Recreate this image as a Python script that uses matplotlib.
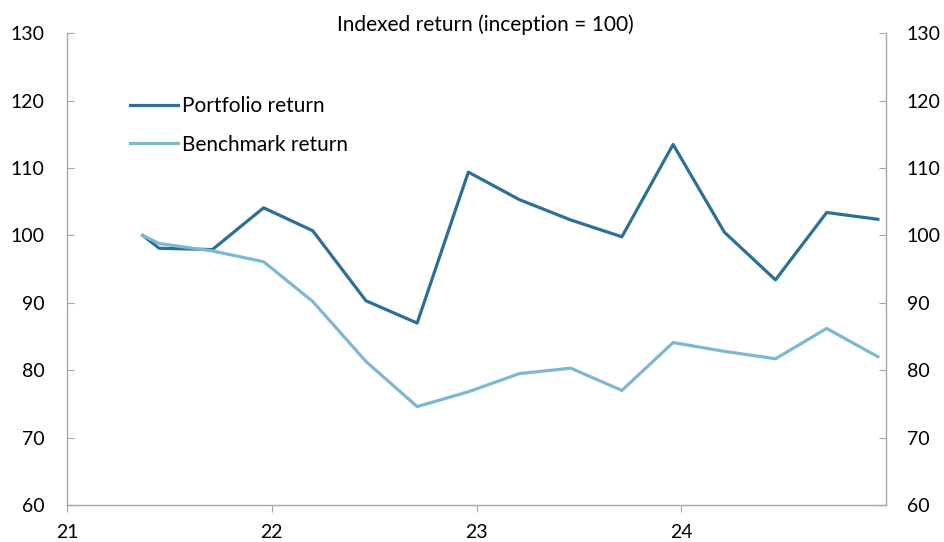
import matplotlib
matplotlib.use("Agg")
import matplotlib.pyplot as plt

# decimal years (21 = 2021)
years = [21.37, 21.45, 21.71, 21.96, 22.20, 22.46, 22.71, 22.96,
         23.21, 23.46, 23.71, 23.96, 24.21, 24.46, 24.71, 24.96]
portfolio = [100.0, 98.1, 97.9, 104.1, 100.7, 90.3, 87.0, 109.4,
             105.3, 102.3, 99.8, 113.5, 100.5, 93.4, 103.4, 102.4]
benchmark = [100.0, 98.8, 97.7, 96.1, 90.2, 81.3, 74.6, 76.8,
             79.5, 80.3, 77.0, 84.1, 82.8, 81.7, 86.2, 82.0]
xticks = [21, 22, 23, 24]
yticks = [60, 70, 80, 90, 100, 110, 120, 130]

plt.rcParams['font.family'] = ['Lato', 'DejaVu Sans']
dark = '#2B7195'
light = '#7DB8D3'
grey = '#A6A6A6'

fig = plt.figure(figsize=(9.44, 5.42), dpi=100)
ax = fig.add_axes([0.0710, 0.0683, 0.8676, 0.8703])

ax.plot(years, portfolio, color=dark, lw=2.3, label='Portfolio return')
ax.plot(years, benchmark, color=light, lw=2.3, label='Benchmark return')

ax.set_xlim(21, 25)
ax.set_ylim(60, 130)
ax.set_xticks(xticks)
ax.set_xticklabels([str(t) for t in xticks])
ax.set_yticks(yticks)

for s in ['left', 'right', 'bottom']:
    ax.spines[s].set_color(grey)
    ax.spines[s].set_linewidth(1.0)
ax.spines['top'].set_visible(False)

ax.tick_params(axis='y', direction='in', length=5, color=grey, pad=16, labelsize=14)
ax.tick_params(axis='x', direction='out', length=5, color=grey, pad=9, labelsize=14)

ax2 = ax.twinx()
ax2.set_ylim(60, 130)
ax2.set_yticks(yticks)
for s in ['left', 'right', 'bottom', 'top']:
    ax2.spines[s].set_visible(False)
ax2.tick_params(axis='y', direction='in', length=5, color=grey, pad=15, labelsize=14)

ax.legend(loc='upper left', bbox_to_anchor=(0.054, 0.907), frameon=False,
          fontsize=15, handlelength=2.3, handletextpad=0.2, labelspacing=0.9)

fig.text(0.514, 0.954, 'Indexed return (inception = 100)', ha='center', va='center', fontsize=15)

fig.savefig('out.png', dpi=100)
